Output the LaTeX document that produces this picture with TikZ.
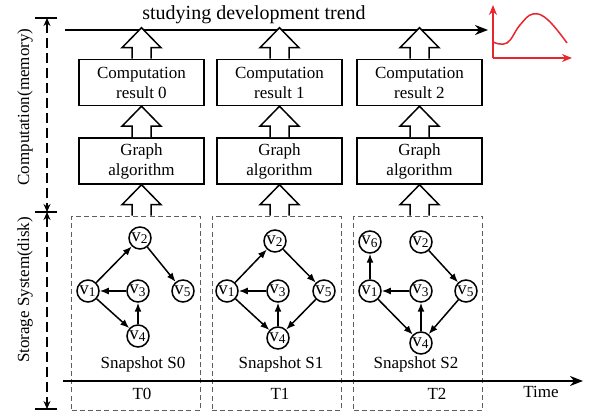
\documentclass[tikz,border=0pt]{standalone}
\usepackage{fontspec}
\setmainfont{Liberation Serif}
\usetikzlibrary{arrows.meta,positioning}
\definecolor{trendred}{RGB}{232,38,46}
\definecolor{snapgray}{RGB}{95,95,95}

\begin{document}
\begin{tikzpicture}[
		x=0.5pt,
		y=-0.5pt,
		node distance=15.5pt,
		box/.style={
			rectangle,
			draw,
			line width=0.75pt,
			align=center,
			minimum width=62.5pt,
			minimum height=23pt,
			inner sep=0pt,
			font=\fontsize{8.5}{10}\selectfont
		},
		snapshot/.style={
			rectangle,
			draw=snapgray,
			line width=0.5pt,
			dash pattern=on 2.5pt off 1.6pt,
			minimum width=64.5pt,
			minimum height=97pt,
			inner sep=0pt
		},
		vertex/.style={
			circle,
			draw,
			fill=white,
			line width=0.75pt,
			minimum size=11pt,
			inner sep=0pt,
			font=\fontsize{9.5}{10}\selectfont
		},
		txt/.style={
			anchor=base,
			inner sep=0pt,
			font=\fontsize{8.5}{10}\selectfont
		},
		edge/.style={
			-{Latex[length=4.5pt,width=3.5pt]},
			line width=0.75pt
		},
		axis/.style={
			-{Stealth[length=6.5pt,width=5pt]},
			line width=1.3pt
		},
		chart/.style={
			-{Stealth[length=5pt,width=4pt]},
			trendred,
			line width=0.75pt
		},
		span/.style={
			{Stealth[length=4pt,width=3.5pt]}-{Stealth[length=4pt,width=3.5pt]},
			line width=1pt,
			dash pattern=on 5pt off 2.5pt
		},
		fat arrow/.pic={
			\draw[line width=0.75pt, fill=white]
			(-9.5,0) -- (-9.5,-11) -- (-19.5,-11) -- (0,-31)
			-- (19.5,-11) -- (9.5,-11) -- (9.5,0);
		}
		]
		
		\useasboundingbox (0,0) rectangle (590,415);
		
		% memory / disk extent on the left
		\coordinate (memtop) at (47,18);
		\coordinate (memmid) at (47,212);
		\coordinate (diskbot) at (47,409);
		
		\draw[line width=0.75pt] (35,18) -- (57,18);
		\draw[line width=0.75pt] (35,212) -- (57,212);
		\draw[line width=0.75pt] (35,409) -- (57,409);
		
		\draw[span] (memtop) -- (memmid);
		\draw[span] (memmid) -- (diskbot);
		
		\node[txt, rotate=90] (memlabel) at (29,107) {Computation(memory)};
		\node[txt, rotate=90] (disklabel) at (29,290) {Storage System(disk)};
		
		% trend line and sketch
		\coordinate (trendstart) at (65,30);
		\coordinate (trendend) at (488,30);
		\draw[axis, line width=1.1pt] (trendstart) -- (trendend);
		\node[txt, font=\fontsize{10}{12}\selectfont] (trend) at (254,20)
		{studying development trend};
		
		\coordinate (origin) at (493,58);
		\coordinate (yend) at (493,5);
		\coordinate (xend) at (572,58);
		\draw[chart] (origin) -- (yend);
		\draw[chart] (origin) -- (xend);
		\draw[trendred, line width=0.75pt]
		plot[smooth, tension=0.7] coordinates
		{(493,42) (507,43) (520,25) (533,14) (548,20) (567,43)};
		
		% columns
		\node[box] (ga0) at (141.5,161) {Graph\\algorithm};
		\node[box, above=of ga0] (cr0) {Computation\\result 0};
		\node[snapshot, below=of ga0, xshift=-2.75pt] (snap0) {};
		
		\node[box] (ga1) at (279.5,161) {Graph\\algorithm};
		\node[box, above=of ga1] (cr1) {Computation\\result 1};
		\node[snapshot, below=of ga1, xshift=-1.5pt] (snap1) {};
		
		\node[box] (ga2) at (419.5,161) {Graph\\algorithm};
		\node[box, above=of ga2] (cr2) {Computation\\result 2};
		\node[snapshot, below=of ga2, xshift=-0.75pt] (snap2) {};
		
		\pic at (cr0.north) {fat arrow};
		\pic at (ga0.north) {fat arrow};
		\pic at (snap0.north -| ga0) {fat arrow};
		\pic at (cr1.north) {fat arrow};
		\pic at (ga1.north) {fat arrow};
		\pic at (snap1.north -| ga1) {fat arrow};
		\pic at (cr2.north) {fat arrow};
		\pic at (ga2.north) {fat arrow};
		\pic at (snap2.north -| ga2) {fat arrow};
		
		% snapshot S0
		\node[vertex] (a1) at (88,291) {v\textsubscript{1}};
		\node[vertex] (a2) at (140,238) {v\textsubscript{2}};
		\node[vertex] (a3) at (138,291) {v\textsubscript{3}};
		\node[vertex] (a4) at (138,336) {v\textsubscript{4}};
		\node[vertex] (a5) at (183,291) {v\textsubscript{5}};
		
		\draw[edge] (a1) -- (a2);
		\draw[edge] (a2) -- (a5);
		\draw[edge] (a3) -- (a1);
		\draw[edge] (a4) -- (a3);
		\draw[edge] (a1) -- (a4);
		
		% snapshot S1
		\node[vertex] (b1) at (227,291) {v\textsubscript{1}};
		\node[vertex] (b2) at (275,241) {v\textsubscript{2}};
		\node[vertex] (b3) at (278,291) {v\textsubscript{3}};
		\node[vertex] (b4) at (278,338) {v\textsubscript{4}};
		\node[vertex] (b5) at (324,291) {v\textsubscript{5}};
		
		\draw[edge] (b1) -- (b2);
		\draw[edge] (b2) -- (b5);
		\draw[edge] (b3) -- (b1);
		\draw[edge] (b4) -- (b3);
		\draw[edge] (b1) -- (b4);
		\draw[edge] (b5) -- (b4);
		
		% snapshot S2
		\node[vertex] (c1) at (370,291) {v\textsubscript{1}};
		\node[vertex] (c2) at (421,242) {v\textsubscript{2}};
		\node[vertex] (c3) at (421,291) {v\textsubscript{3}};
		\node[vertex] (c4) at (421,343) {v\textsubscript{4}};
		\node[vertex] (c5) at (466,291) {v\textsubscript{5}};
		\node[vertex] (c6) at (370,242) {v\textsubscript{6}};
		
		\draw[edge] (c1) -- (c6);
		\draw[edge] (c2) -- (c5);
		\draw[edge] (c3) -- (c1);
		\draw[edge] (c4) -- (c3);
		\draw[edge] (c1) -- (c4);
		\draw[edge] (c5) -- (c4);
		
		\node[txt] (name0) at (143,369) {Snapshot S0};
		\node[txt] (name1) at (281,369) {Snapshot S1};
		\node[txt] (name2) at (416,369) {Snapshot S2};
		
		% time axis
		\coordinate (timestart) at (63,381);
		\coordinate (timeend) at (583,381);
		\draw[axis] (timestart) -- (timeend);
		
		\node[txt] (t0) at (142,400) {T0};
		\node[txt] (t1) at (280,400) {T1};
		\node[txt] (t2) at (437,400) {T2};
		\node[txt] (time) at (541,398) {Time};
		
	\end{tikzpicture}
\end{document}
